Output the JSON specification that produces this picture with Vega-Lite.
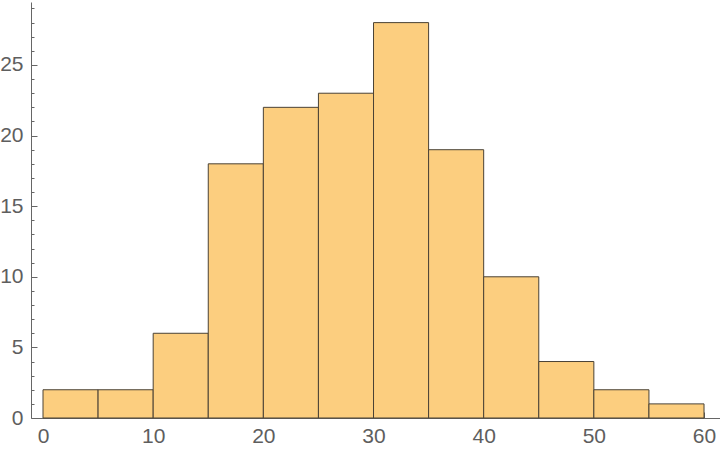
{
  "$schema": "https://vega.github.io/schema/vega-lite/v6.json",
  "width": 689,
  "height": 416,
  "autosize": "none",
  "padding": {"left": 31, "top": 2, "right": 0, "bottom": 32},
  "background": "white",
  "config": {"view": {"stroke": null}},
  "data": {"values": [
    {"start": 0, "end": 5, "count": 2},
    {"start": 5, "end": 10, "count": 2},
    {"start": 10, "end": 15, "count": 6},
    {"start": 15, "end": 20, "count": 18},
    {"start": 20, "end": 25, "count": 22},
    {"start": 25, "end": 30, "count": 23},
    {"start": 30, "end": 35, "count": 28},
    {"start": 35, "end": 40, "count": 19},
    {"start": 40, "end": 45, "count": 10},
    {"start": 45, "end": 50, "count": 4},
    {"start": 50, "end": 55, "count": 2},
    {"start": 55, "end": 60, "count": 1}
  ]},
  "mark": {"type": "rect", "fill": "#FCCE7F", "stroke": "#4a4235", "strokeWidth": 1},
  "encoding": {
    "x": {"field": "start", "type": "quantitative",
      "scale": {"domain": [-1.09, 61.45], "nice": false, "zero": false},
      "axis": {"title": null, "grid": false,
        "values": [0,2,4,6,8,10,12,14,16,18,20,22,24,26,28,30,32,34,36,38,40,42,44,46,48,50,52,54,56,58,60],
        "labelExpr": "datum.value % 10 === 0 ? datum.label : ''",
        "tickSize": {"condition": {"test": "datum.value % 10 === 0", "value": -6}, "value": -3},
        "tickColor": "#666666", "domainColor": "#666666", "labelColor": "#5e5e5e",
        "labelFont": "Liberation Sans", "labelFontSize": 21, "labelPadding": 13, "labelFlush": false, "labelOverlap": false}},
    "x2": {"field": "end"},
    "y": {"field": "count", "type": "quantitative",
      "scale": {"domain": [0, 29.46], "nice": false},
      "axis": {"title": null, "grid": false,
        "values": [0,1,2,3,4,5,6,7,8,9,10,11,12,13,14,15,16,17,18,19,20,21,22,23,24,25,26,27,28,29],
        "labelExpr": "datum.value % 5 === 0 ? datum.label : ''",
        "tickSize": {"condition": {"test": "datum.value % 5 === 0", "value": -6}, "value": -3},
        "tickColor": "#666666", "domainColor": "#666666", "labelColor": "#5e5e5e",
        "labelFont": "Liberation Sans", "labelFontSize": 21, "labelPadding": 14, "labelFlush": false, "labelOverlap": false}},
    "y2": {"datum": 0}
  }
}
